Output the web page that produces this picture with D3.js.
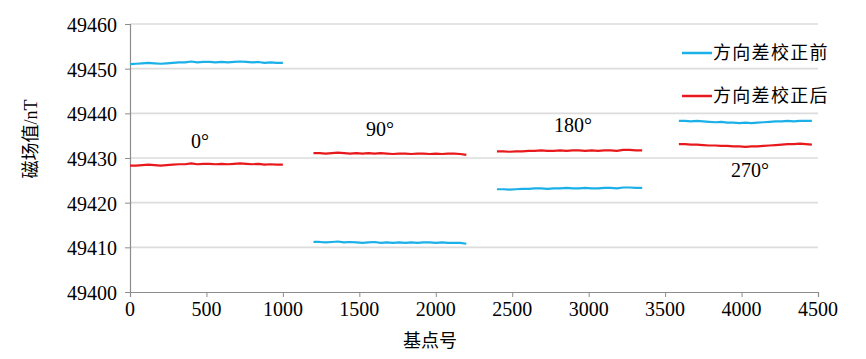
<!DOCTYPE html>
<html><head><meta charset="utf-8">
<script src="https://cdn.jsdelivr.net/npm/d3@7/dist/d3.min.js"></script>
</head><body style="margin:0">
<script>
// ---- data ----
const yTicks = [49400, 49410, 49420, 49430, 49440, 49450, 49460];
const xTicks = [0, 500, 1000, 1500, 2000, 2500, 3000, 3500, 4000, 4500];
const legendLabels = ["方向差校正前", "方向差校正后"];
const angleLabels = ["0°", "90°", "180°", "270°"];
const angleLabelPos = [[458, 49432.2], [1635, 49434.9], [2897, 49435.8], [4055, 49425.7]];
const segStart = [0, 1200, 2400, 3590];
const segEnd = [1000, 2200, 3350, 4460];

const before0 = [49451.0,49451.1,49451.2,49451.3,49451.2,49451.1,49451.2,49451.3,49451.4,49451.4,49451.6,49451.4,49451.5,49451.5,49451.4,49451.5,49451.4,49451.5,49451.6,49451.5,49451.4,49451.5,49451.3,49451.4,49451.3,49451.3];
const after0  = [49428.3,49428.3,49428.4,49428.5,49428.4,49428.3,49428.4,49428.5,49428.6,49428.6,49428.8,49428.6,49428.7,49428.7,49428.6,49428.7,49428.6,49428.7,49428.8,49428.7,49428.6,49428.7,49428.5,49428.6,49428.5,49428.5];
const after1  = [49431.1,49431.1,49431.0,49431.1,49431.2,49431.1,49431.0,49431.1,49431.0,49431.1,49431.0,49431.1,49431.0,49430.9,49431.0,49431.0,49430.9,49431.0,49431.0,49430.9,49431.0,49430.9,49431.0,49431.0,49430.9,49430.7];
const before1 = [49411.2,49411.2,49411.1,49411.2,49411.3,49411.1,49411.2,49411.1,49411.0,49411.1,49411.2,49411.0,49411.1,49411.0,49411.1,49411.0,49411.1,49411.0,49411.1,49411.1,49411.0,49411.1,49411.0,49411.0,49411.0,49410.8];
const after2  = [49431.5,49431.5,49431.4,49431.5,49431.5,49431.6,49431.6,49431.7,49431.6,49431.6,49431.7,49431.6,49431.7,49431.7,49431.6,49431.7,49431.6,49431.7,49431.7,49431.6,49431.8,49431.8,49431.7,49431.7];
const before2 = [49423.0,49423.0,49422.9,49423.0,49423.1,49423.1,49423.2,49423.2,49423.1,49423.2,49423.2,49423.3,49423.2,49423.2,49423.3,49423.2,49423.2,49423.3,49423.3,49423.2,49423.4,49423.4,49423.3,49423.3];
const before3 = [49438.3,49438.3,49438.2,49438.3,49438.2,49438.1,49438.0,49438.1,49437.9,49437.9,49437.8,49437.9,49437.8,49437.9,49438.0,49438.1,49438.2,49438.2,49438.3,49438.2,49438.3,49438.3,49438.3];
const after3  = [49433.1,49433.1,49433.0,49433.0,49432.9,49432.8,49432.8,49432.7,49432.7,49432.6,49432.6,49432.5,49432.6,49432.6,49432.7,49432.8,49432.9,49433.0,49433.1,49433.1,49433.2,49433.1,49433.0];

const beforeSegs = [before0, before1, before2, before3];
const afterSegs = [after0, after1, after2, after3];

// ---- chart ----
const W = 866, H = 359;
const m = {left: 130, right: 48, top: 24, bottom: 67};
const SERIF = "Liberation Serif";
const CJK = "Liberation Serif, Noto Sans CJK SC";
const svg = d3.select("body").append("svg").attr("width", W).attr("height", H).style("display", "block");
const x = d3.scaleLinear().domain([0, 4500]).range([m.left, W - m.right]);
const y = d3.scaleLinear().domain([49400, 49460]).range([H - m.bottom, m.top]);

// gridlines
svg.append("g").selectAll("line").data(yTicks.slice(1)).join("line")
  .attr("x1", x(0)).attr("x2", x(4500))
  .attr("y1", d => y(d)).attr("y2", d => y(d))
  .attr("stroke", "#dcdcdc").attr("stroke-width", 1.6);

// axis lines and ticks (labels drawn separately)
const yAxis = svg.append("g").attr("transform", `translate(${x(0)},0)`)
  .call(d3.axisLeft(y).tickValues(yTicks).tickSize(5).tickFormat(""));
const xAxis = svg.append("g").attr("transform", `translate(0,${y(49400)})`)
  .call(d3.axisBottom(x).tickValues(xTicks).tickSize(5).tickFormat(""));
[yAxis, xAxis].forEach(a => {
  a.select(".domain").attr("stroke", "#8c8c8c").attr("stroke-width", 1.2);
  a.selectAll(".tick line").attr("stroke", "#8c8c8c");
  a.selectAll(".tick text").remove();
});

// tick labels
svg.append("g").selectAll("text").data(yTicks).join("text")
  .attr("x", x(0) - 13).attr("y", d => y(d) + 8).attr("text-anchor", "end")
  .attr("font-family", SERIF).attr("font-size", 20).attr("fill", "#000").text(d => d);
svg.append("g").selectAll("text").data(xTicks).join("text")
  .attr("x", d => x(d)).attr("y", y(49400) + 24).attr("text-anchor", "middle")
  .attr("font-family", SERIF).attr("font-size", 20).attr("fill", "#000").text(d => d);

// lines
const line = d3.line().x(d => x(d[0])).y(d => y(d[1]));
function pts(vals, i) {
  const n = vals.length;
  return vals.map((v, k) => [segStart[i] + (segEnd[i] - segStart[i]) * k / (n - 1), v]);
}
const blue = "#1cb0e8", red = "#e8191c";
beforeSegs.forEach((vals, i) => {
  svg.append("path").attr("d", line(pts(vals, i))).attr("fill", "none")
    .attr("stroke", blue).attr("stroke-width", 2.2).attr("stroke-linejoin", "round");
});
afterSegs.forEach((vals, i) => {
  svg.append("path").attr("d", line(pts(vals, i))).attr("fill", "none")
    .attr("stroke", red).attr("stroke-width", 2.2).attr("stroke-linejoin", "round");
});

// angle labels
svg.append("g").selectAll("text").data(angleLabels).join("text")
  .attr("x", (d, i) => x(angleLabelPos[i][0])).attr("y", (d, i) => y(angleLabelPos[i][1]))
  .attr("text-anchor", "middle").attr("font-family", SERIF).attr("font-size", 20).text(d => d);

// legend
const lg = svg.append("g");
legendLabels.forEach((t, i) => {
  const ly = 53 + i * 43;
  lg.append("line").attr("x1", 682).attr("x2", 712).attr("y1", ly).attr("y2", ly)
    .attr("stroke", i === 0 ? blue : red).attr("stroke-width", 2.5);
  lg.append("text").attr("x", 713).attr("y", ly + 6).attr("font-family", CJK)
    .attr("font-size", 18).attr("letter-spacing", 1.3).text(t);
});

// axis titles
svg.append("text").attr("transform", "translate(37,139) rotate(-90)")
  .attr("text-anchor", "middle").attr("font-family", CJK).attr("font-size", 18).text("磁场值/nT");
svg.append("text").attr("x", 430).attr("y", 347).attr("text-anchor", "middle")
  .attr("font-family", CJK).attr("font-size", 18).text("基点号");
</script>
</body></html>
